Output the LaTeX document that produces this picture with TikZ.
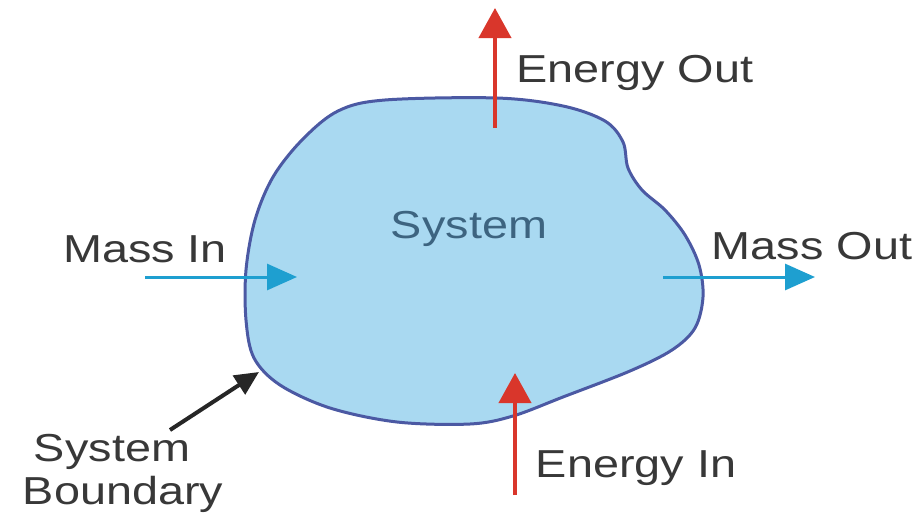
\documentclass[tikz,border=0pt]{standalone}
\usepackage{fontspec}
\setmainfont{Liberation Sans}[FakeStretch=1.2]
\usetikzlibrary{arrows.meta}
\definecolor{blobfill}{HTML}{A9D9F1}
\definecolor{blobline}{HTML}{4B59A3}
\definecolor{massblue}{HTML}{1E9FD0}
\definecolor{enred}{HTML}{D9362B}
\definecolor{labelgray}{HTML}{383838}
\definecolor{systext}{HTML}{3D6480}
\tikzset{
  lbl/.style={anchor=base, inner sep=0pt, text=labelgray, font=\fontsize{39}{44}\selectfont},
  masarrow/.style={draw=massblue, line width=3pt, -{Triangle[length=30pt,width=26pt]}},
  enarrow/.style={draw=enred, line width=4pt, -{Triangle[length=30pt,width=32pt]}},
  bndarrow/.style={draw=black!85, line width=4pt, -{Triangle[length=24pt,width=22pt]}},
}
\begin{document}
\begin{tikzpicture}[x=1pt,y=-1pt]
\useasboundingbox (0,0) rectangle (922,514);
\fill[white] (0,0) rectangle (922,514);
% system blob
\draw[fill=blobfill, draw=blobline, line width=3pt]
  plot[smooth cycle, tension=0.55] coordinates {
  (385,100) (497,98) (563,106) (605,121) (623,142) (628,168) (642,190)
  (665,210) (685,235) (699,265) (703,297) (695,328) (672,350) (630,371) (563,397)
  (513,416) (470,424) (397,422) (330,408) (280,385) (254,358) (246,320) (246,270)
  (255,220) (273,177) (302,140) (338,111)};
% endpoints
\coordinate (miT) at (145,277);
\coordinate (miH) at (297,277);
\coordinate (moT) at (663,277);
\coordinate (moH) at (815,277);
\coordinate (eoT) at (495,128);
\coordinate (eoH) at (495,8);
\coordinate (eiT) at (515,495);
\coordinate (eiH) at (515,373);
\coordinate (sbT) at (170,430);
\coordinate (sbH) at (259,372);
% labels
\node[lbl] (massin) at (145,262) {Mass In};
\node[lbl] (massout) at (812,259) {Mass Out};
\node[lbl] (enout) at (635,82) {Energy Out};
\node[lbl] (enin) at (636,477) {Energy In};
\node[lbl, text=systext] (sys) at (469,238) {System};
\node[lbl] (sb1) at (112,461) {System};
\node[lbl] (sb2) at (123,504) {Boundary};
% arrows
\draw[masarrow] (miT) -- (miH);
\draw[masarrow] (moT) -- (moH);
\draw[enarrow] (eoT) -- (eoH);
\draw[enarrow] (eiT) -- (eiH);
\draw[bndarrow] (sbT) -- (sbH);
\end{tikzpicture}
\end{document}
